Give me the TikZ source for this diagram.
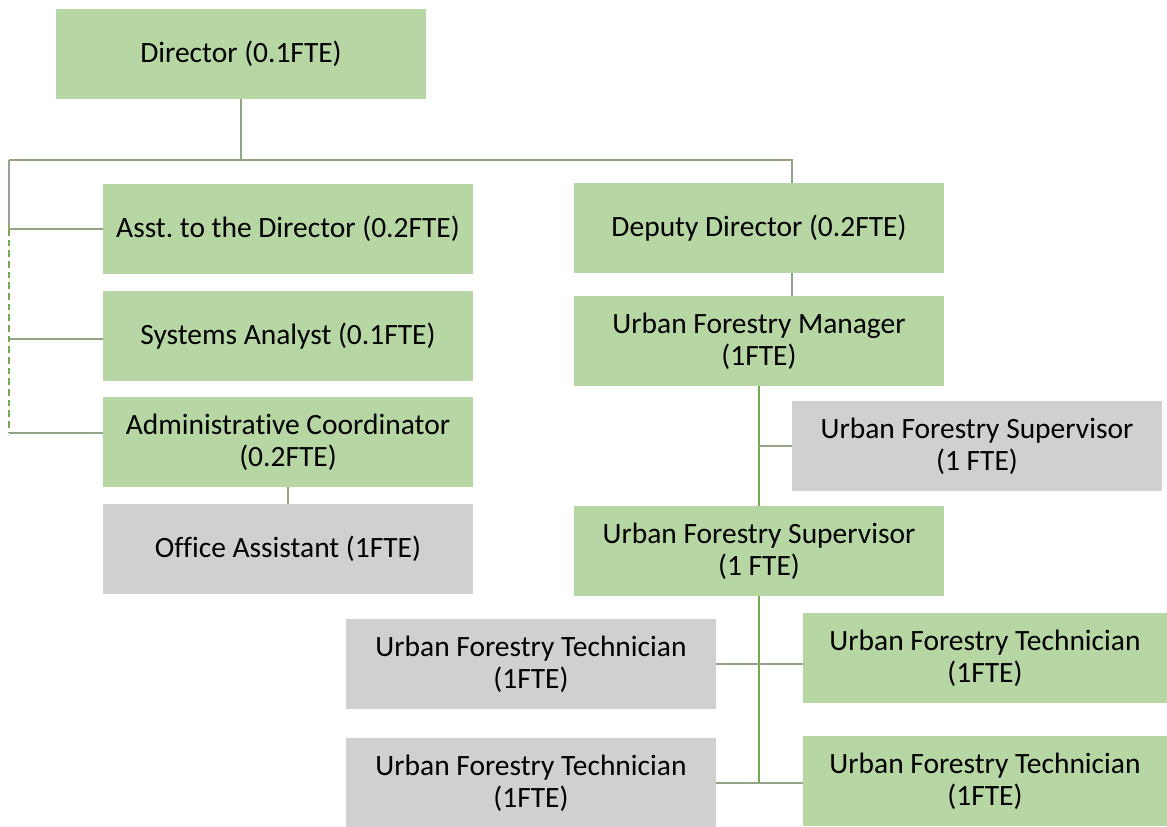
\documentclass[tikz,border=0pt]{standalone}
\usepackage{fontspec}
\setmainfont{Carlito}[Ligatures=NoCommon]
\usetikzlibrary{positioning}
\definecolor{boxgreen}{HTML}{B6D7A3}
\definecolor{boxgray}{HTML}{D0D0D0}
\definecolor{linegray}{HTML}{93A386}
\definecolor{linegreen}{HTML}{70AD47}
\frenchspacing

\begin{document}
\begin{tikzpicture}[x=0.75pt, y=-0.75pt,
    post/.style={fill=boxgreen, minimum width=277.5pt, minimum height=67.5pt, inner sep=0pt, align=center, font=\fontsize{22.1}{24}\selectfont},
    vacant/.style={post, fill=boxgray},
    link/.style={linegray, line width=0.9pt},
    trunk/.style={linegreen, line width=0.9pt}]
    \useasboundingbox (0,0) rectangle (1167,826);

    % Director and staff
    \node[post] (dir) at (241,54) {Director (0.1FTE)};
    \node[post] (asst) at (288,229) {Asst. to the Director (0.2FTE)};
    \node[post] (sys) at (288,336) {Systems Analyst (0.1FTE)};
    \node[post] (admin) at (288,442) {Administrative Coordinator\\(0.2FTE)};
    \node[vacant] (office) at (288,549) {Office Assistant (1FTE)};

    % Urban forestry line
    \node[post] (dep) at (759,228) {Deputy Director (0.2FTE)};
    \node[post] (mgr) at (759,341) {Urban Forestry Manager\\(1FTE)};
    \node[vacant] (supg) at (977,446) {Urban Forestry Supervisor\\(1 FTE)};
    \node[post] (sup) at (759,551) {Urban Forestry Supervisor\\(1 FTE)};

    % Technicians
    \node[vacant] (tg1) at (531,664) {Urban Forestry Technician\\(1FTE)};
    \node[post, minimum width=273pt] (tr1) at (985,658) {Urban Forestry Technician\\(1FTE)};
    \node[vacant] (tg2) at (531,783) {Urban Forestry Technician\\(1FTE)};
    \node[post, minimum width=273pt] (tr2) at (985,781) {Urban Forestry Technician\\(1FTE)};

    % Connectors
    \coordinate (top) at (241,160);
    \coordinate (tl) at (9,160);
    \coordinate (tr) at (792,160);
    \coordinate (l1) at (9,229);
    \coordinate (l2) at (9,339);
    \coordinate (l3) at (9,433);
    \draw[link] (dir.south) -- (top);
    \draw[link] (tl) -- (tr) -- (tr |- dep.north);
    \draw[link] (tl) -- (l1) -- (asst.west);
    \draw[link] (l2) -- (l2 -| sys.west);
    \draw[link] (l3) -- (l3 -| admin.west);
    \draw[trunk, line width=1.2pt, dash pattern=on 5pt off 3pt] (l1) -- (l3);
    \draw[link] (admin.south) -- (office.north);
    \draw[link] (dep.south -| tr) -- (mgr.north -| tr);
    \draw[trunk] (mgr.south) -- (sup.north);
    \draw[link] (supg.west -| mgr.south) -- (supg.west);
    \draw[trunk] (sup.south) -- (sup.south |- tg2.east);
    \draw[link] (tg1.east) -- (tg1.east -| tr1.west);
    \draw[link] (tg2.east) -- (tg2.east -| tr2.west);
\end{tikzpicture}
\end{document}
